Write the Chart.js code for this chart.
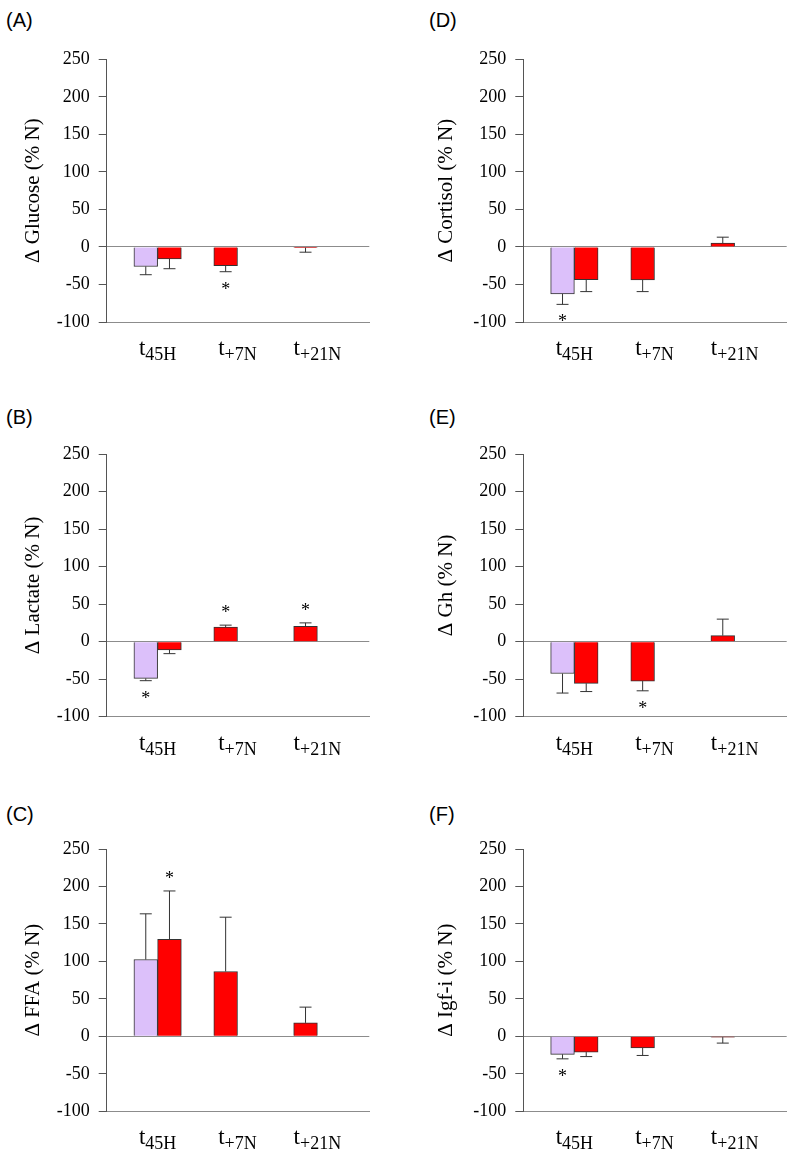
<!DOCTYPE html>
<html>
<head>
<meta charset="utf-8">
<script src="https://cdn.jsdelivr.net/npm/chart.js@4/dist/chart.umd.min.js"></script>
<style>
  body { margin: 0; background: #fff; width: 796px; height: 1167px; position: relative; overflow: hidden; }
  .panel { position: absolute; }
  .tag { position: absolute; font: 20px "Liberation Sans", Arial, sans-serif; line-height: 20px; color: #000; }
</style>
</head>
<body>
<div class="tag" style="left:6px;top:10px">(A)</div>
<div class="tag" style="left:429px;top:10px">(D)</div>
<div class="tag" style="left:6px;top:407px">(B)</div>
<div class="tag" style="left:429px;top:407px">(E)</div>
<div class="tag" style="left:6px;top:804px">(C)</div>
<div class="tag" style="left:429px;top:804px">(F)</div>

<div class="panel" style="left:0;top:0;width:398px;height:390px"><canvas id="cA"></canvas></div>
<div class="panel" style="left:398px;top:0;width:398px;height:390px"><canvas id="cD"></canvas></div>
<div class="panel" style="left:0;top:390px;width:398px;height:390px"><canvas id="cB"></canvas></div>
<div class="panel" style="left:398px;top:390px;width:398px;height:390px"><canvas id="cE"></canvas></div>
<div class="panel" style="left:0;top:780px;width:398px;height:387px"><canvas id="cC"></canvas></div>
<div class="panel" style="left:398px;top:780px;width:398px;height:387px"><canvas id="cF"></canvas></div>

<script>
// time points, written as t + subscript
const timeSubs = ['45H', '+7N', '+21N'];
const yTicks = [-100, -50, 0, 50, 100, 150, 200, 250];

// first bar of each group (lavender at t45H, red afterwards), second bar only at t45H
const firstColors = ['#DCC0FA', '#FF0000', '#FF0000'];
const secondColors = ['#FF0000', '#FF0000', '#FF0000'];

// (A) glucose
const glucoseFirst = [-26, -25, -1];
const glucoseFirstErr = [11, 8, 6];
const glucoseSecond = [-16, null, null];
const glucoseSecondErr = [13, null, null];
const glucoseFirstStar = [0, 1, 0];
const glucoseSecondStar = [0, 0, 0];

// (B) lactate
const lactateFirst = [-49, 19.5, 20.5];
const lactateFirstErr = [3, 2.5, 4.5];
const lactateSecond = [-11, null, null];
const lactateSecondErr = [5, null, null];
const lactateFirstStar = [1, 1, 1];
const lactateSecondStar = [0, 0, 0];

// (C) FFA
const ffaFirst = [102.5, 86.5, 18];
const ffaFirstErr = [61, 72.5, 21];
const ffaSecond = [129.5, null, null];
const ffaSecondErr = [64.5, null, null];
const ffaFirstStar = [0, 0, 0];
const ffaSecondStar = [1, 0, 0];

// (D) cortisol
const cortisolFirst = [-62.5, -44, 5];
const cortisolFirstErr = [14, 15.5, 8];
const cortisolSecond = [-43.5, null, null];
const cortisolSecondErr = [16, null, null];
const cortisolFirstStar = [1, 0, 0];
const cortisolSecondStar = [0, 0, 0];

// (E) Gh
const ghFirst = [-42.5, -52.5, 8];
const ghFirstErr = [26, 13, 22];
const ghSecond = [-55.5, null, null];
const ghSecondErr = [11, null, null];
const ghFirstStar = [0, 1, 0];
const ghSecondStar = [0, 0, 0];

// (F) Igf-i
const igfFirst = [-24, -15.5, -1];
const igfFirstErr = [6, 10, 8];
const igfSecond = [-21, null, null];
const igfSecondErr = [6, null, null];
const igfFirstStar = [1, 0, 0];
const igfSecondStar = [0, 0, 0];

const SERIF = '"Liberation Serif", "Times New Roman", serif';

// error bars (one sided, away from zero) and the significance stars
const errorBars = {
  id: 'errorBars',
  afterDatasetsDraw(chart) {
    const ctx = chart.ctx;
    const y = chart.scales.y;
    ctx.save();
    chart.data.datasets.forEach((ds, di) => {
      const meta = chart.getDatasetMeta(di);
      meta.data.forEach((bar, i) => {
        const v = ds.data[i].y;
        if (v == null) return;
        const dir = v < 0 ? -1 : 1;
        const yEnd = y.getPixelForValue(v + dir * ds.errors[i]);
        ctx.strokeStyle = '#333';
        ctx.lineWidth = 1;
        ctx.beginPath();
        ctx.moveTo(bar.x, bar.y);
        ctx.lineTo(bar.x, yEnd);
        ctx.moveTo(bar.x - 6, yEnd);
        ctx.lineTo(bar.x + 6, yEnd);
        ctx.stroke();
        if (ds.stars[i]) {
          const yc = yEnd - dir * 15;
          ctx.fillStyle = '#000';
          ctx.font = '18px ' + SERIF;
          ctx.textAlign = 'center';
          ctx.textBaseline = 'alphabetic';
          ctx.fillText('*', bar.x, yc + 8);
        }
      });
    });
    ctx.restore();
  }
};

// y title and the subscripted time labels
const panelText = {
  id: 'panelText',
  afterDraw(chart) {
    const ctx = chart.ctx;
    const area = chart.chartArea;
    const x = chart.scales.x;
    const o = chart.options.plugins.panelText;
    ctx.save();
    ctx.fillStyle = '#000';
    ctx.textBaseline = 'alphabetic';
    ctx.textAlign = 'left';
    timeSubs.forEach((s, i) => {
      ctx.font = '23px ' + SERIF;
      const w1 = ctx.measureText('t').width;
      ctx.font = '18px ' + SERIF;
      const w2 = ctx.measureText(s).width;
      const left = x.getPixelForValue(i) - (w1 + w2) / 2;
      const base = area.bottom + 33;
      ctx.font = '23px ' + SERIF;
      ctx.fillText('t', left, base);
      ctx.font = '18px ' + SERIF;
      ctx.fillText(s, left + w1, base + 5);
    });
    ctx.translate(o.titleX, (area.top + area.bottom) / 2);
    ctx.rotate(-Math.PI / 2);
    ctx.font = '21px ' + SERIF;
    ctx.textAlign = 'center';
    ctx.textBaseline = 'middle';
    ctx.fillText(o.title, 0, 0);
    ctx.restore();
  }
};

function toPoints(values) {
  return values.map((v, i) => ({ x: i, y: v }));
}

function makePanel(id, title, col, row, first, firstErr, firstStar, second, secondErr, secondStar) {
  const yWidth = col === 0 ? 106.7 : 125.3;
  const padRight = col === 0 ? 28.7 : 9.3;
  const titleX = col === 0 ? 33 : 48.7;
  const padTop = [59.3, 64, 69][row];
  const padBottom = [68, 63.3, 55.7][row];

  return new Chart(document.getElementById(id), {
    type: 'bar',
    data: {
      datasets: [{
        data: toPoints(first),
        errors: firstErr,
        stars: firstStar,
        backgroundColor: firstColors,
        borderColor: '#333',
        borderWidth: 1
      }, {
        data: toPoints(second),
        errors: secondErr,
        stars: secondStar,
        backgroundColor: secondColors,
        borderColor: '#333',
        borderWidth: 1
      }]
    },
    options: {
      responsive: true,
      maintainAspectRatio: false,
      animation: false,
      devicePixelRatio: 1,
      barThickness: 23.7,
      layout: { padding: { top: padTop, right: padRight, bottom: padBottom, left: 0 } },
      plugins: {
        legend: { display: false },
        tooltip: { enabled: false },
        panelText: { title: title, titleX: titleX }
      },
      scales: {
        x: {
          type: 'linear',
          min: -0.6375,
          max: 2.65,
          bounds: 'data',
          offset: false,
          ticks: { display: false, stepSize: 1, includeBounds: false },
          grid: { display: false, offset: false },
          border: { display: true, color: '#8c8c8c', width: 1 },
          afterFit: s => { s.height = 0; }
        },
        y: {
          min: -100,
          max: 250,
          afterBuildTicks: s => { s.ticks = yTicks.map(v => ({ value: v })); },
          ticks: {
            padding: 9,
            color: '#000',
            font: { family: SERIF, size: 18 }
          },
          grid: {
            color: c => (c.tick && c.tick.value === 0 ? '#8c8c8c' : 'rgba(0,0,0,0)'),
            tickColor: '#555',
            tickLength: 8,
            lineWidth: 1
          },
          border: { color: '#555', width: 1 },
          afterFit: s => { s.width = yWidth; }
        }
      }
    },
    plugins: [errorBars, panelText]
  });
}

makePanel('cA', 'Δ Glucose (% N)', 0, 0, glucoseFirst, glucoseFirstErr, glucoseFirstStar, glucoseSecond, glucoseSecondErr, glucoseSecondStar);
makePanel('cB', 'Δ Lactate (% N)', 0, 1, lactateFirst, lactateFirstErr, lactateFirstStar, lactateSecond, lactateSecondErr, lactateSecondStar);
makePanel('cC', 'Δ FFA (% N)', 0, 2, ffaFirst, ffaFirstErr, ffaFirstStar, ffaSecond, ffaSecondErr, ffaSecondStar);
makePanel('cD', 'Δ Cortisol (% N)', 1, 0, cortisolFirst, cortisolFirstErr, cortisolFirstStar, cortisolSecond, cortisolSecondErr, cortisolSecondStar);
makePanel('cE', 'Δ Gh (% N)', 1, 1, ghFirst, ghFirstErr, ghFirstStar, ghSecond, ghSecondErr, ghSecondStar);
makePanel('cF', 'Δ Igf-i (% N)', 1, 2, igfFirst, igfFirstErr, igfFirstStar, igfSecond, igfSecondErr, igfSecondStar);
</script>
</body>
</html>
